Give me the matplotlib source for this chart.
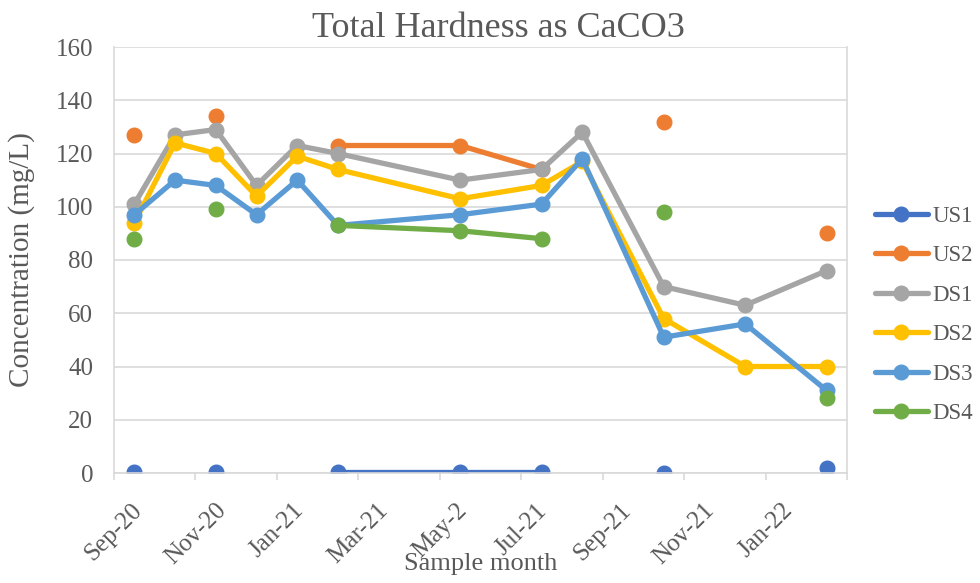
# Gráfico de dureza total (CaCO3) por punto de muestreo
import matplotlib
matplotlib.use("Agg")
import matplotlib.pyplot as plt
import numpy as np
import pandas as pd

# Datos
meses = ["2020-09", "2020-10", "2020-11", "2020-12", "2021-01", "2021-02",
         "2021-05", "2021-07", "2021-08", "2021-10", "2021-12", "2022-02"]
nan = np.nan
us1 = [0.5, nan, 0.5, nan, nan, 0.5, 0.5, 0.5, nan, 0, nan, 2]
us2 = [127, nan, 134, nan, nan, 123, 123, 114, nan, 132, nan, 90]
ds1 = [101, 127, 129, 108, 123, 120, 110, 114, 128, 70, 63, 76]
ds2 = [94, 124, 120, 104, 119, 114, 103, 108, 117, 58, 40, 40]
ds3 = [97, 110, 108, 97, 110, 93, 97, 101, 118, 51, 56, 31]
ds4 = [88, nan, 99, nan, nan, 93, 91, 88, nan, 98, nan, 28]

nombres = ["US1", "US2", "DS1", "DS2", "DS3", "DS4"]
colores = ["#4472C4", "#ED7D31", "#A5A5A5", "#FFC000", "#5B9BD5", "#70AD47"]
etiquetas_x = ["Sep-20", "Nov-20", "Jan-21", "Mar-21", "May-2", "Jul-21",
               "Sep-21", "Nov-21", "Jan-22", ""]

TEXTO = "#595959"
REJILLA = "#D9D9D9"


def main():
    plt.rcParams["font.family"] = ["Liberation Serif", "DejaVu Serif"]

    # Posición de cada mes (centro del mes, como en un eje de fechas de Excel)
    inicio = pd.Period(meses[0], "M")
    x = [(pd.Period(m, "M") - inicio).n + 0.5 for m in meses]

    fig = plt.figure(figsize=(9.8, 5.83), dpi=100)
    ax = fig.add_axes([114 / 980, 1 - 473 / 583, 733 / 980, 426 / 583])

    for serie, nombre, color in zip([us1, us2, ds1, ds2, ds3, ds4], nombres, colores):
        ax.plot(x, serie, color=color, lw=3.8, marker="o", markersize=10.5,
                label=nombre, solid_capstyle="round")

    ax.set_xlim(0, 18)
    ax.set_ylim(0, 160)
    ax.set_yticks(np.arange(0, 161, 20))
    ax.set_xticks(np.arange(0, 19, 2))
    ax.set_xticklabels(etiquetas_x, rotation=45, ha="center", va="top")

    ax.grid(axis="y", color=REJILLA, lw=1.2)
    ax.set_axisbelow(True)
    ax.spines["top"].set_visible(False)
    for lado in ["left", "right", "bottom"]:
        ax.spines[lado].set_color(REJILLA)
        ax.spines[lado].set_linewidth(1.2)

    ax.tick_params(axis="y", length=0, pad=15, labelsize=18, labelcolor=TEXTO)
    ax.tick_params(axis="x", length=5, width=1.2, color=REJILLA, pad=14,
                   labelsize=18, labelcolor=TEXTO)

    # Títulos de ejes
    ax.set_xlabel("Sample month", fontsize=19, color=TEXTO, va="baseline")
    ax.xaxis.set_label_coords(0.5, (473 - 570) / 426)
    ax.set_ylabel("Concentration (mg/L)", fontsize=21, color=TEXTO, va="center")
    ax.yaxis.set_label_coords((22 - 114) / 733, 0.5)

    fig.text(498 / 980, 1 - 37 / 583, "Total Hardness as CaCO3", fontsize=26,
             color=TEXTO, ha="center", va="baseline")

    # Leyenda a la derecha
    fig.legend(loc="center left", bbox_to_anchor=(875 / 980, 1 - 315 / 583),
               frameon=False, fontsize=16.5, labelcolor=TEXTO, handlelength=2.3,
               handletextpad=0.2, labelspacing=0.8, borderpad=0, borderaxespad=0)

    fig.savefig("out.png", dpi=100)


if __name__ == "__main__":
    main()
